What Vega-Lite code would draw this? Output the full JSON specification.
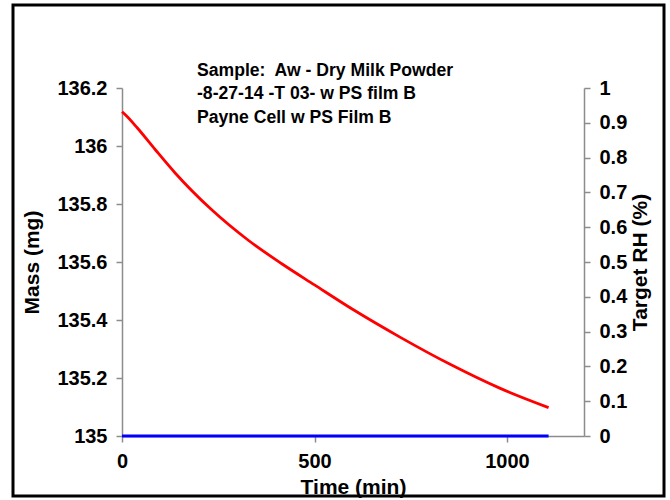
{
  "$schema": "https://vega.github.io/schema/vega-lite/v6.json",
  "autosize": "none",
  "width": 462,
  "height": 348,
  "padding": {"left": 122, "top": 88, "right": 86, "bottom": 64},
  "background": "white",
  "config": {
    "view": {"stroke": null},
    "font": "Liberation Sans",
    "axis": {
      "grid": false,
      "domainColor": "#8c8c8c",
      "tickColor": "#8c8c8c",
      "domainWidth": 1.5,
      "tickWidth": 1.5,
      "tickSize": 6,
      "labelFont": "Liberation Sans",
      "labelFontWeight": "bold",
      "labelFontSize": 20,
      "labelColor": "black",
      "labelPadding": 9,
      "labelFlush": false,
      "labelOverlap": false,
      "titleFont": "Liberation Sans",
      "titleFontWeight": "bold",
      "titleFontSize": 21,
      "titleColor": "black"
    }
  },
  "title": {
    "text": ["Sample:\u00a0 Aw - Dry Milk Powder", "\u2004-8-27-14 -T 03- w PS film B", "Payne Cell w PS Film B"],
    "anchor": "start",
    "frame": "group",
    "orient": "top",
    "offset": 27,
    "dx": 75,
    "dy": 150,
    "font": "Liberation Sans",
    "fontSize": 17.6,
    "fontWeight": "bold",
    "color": "black",
    "lineHeight": 23.5
  },
  "datasets": {
    "mass": [
      {"time": 0, "mass": 136.118},
      {"time": 10, "mass": 136.106},
      {"time": 40, "mass": 136.062},
      {"time": 86, "mass": 135.988},
      {"time": 138, "mass": 135.907},
      {"time": 233, "mass": 135.78},
      {"time": 328, "mass": 135.675},
      {"time": 415, "mass": 135.594},
      {"time": 500, "mass": 135.521},
      {"time": 600, "mass": 135.436},
      {"time": 722, "mass": 135.341},
      {"time": 851, "mass": 135.248},
      {"time": 981, "mass": 135.165},
      {"time": 1108, "mass": 135.098}
    ],
    "rh": [
      {"time": 0, "rh": 0},
      {"time": 1108, "rh": 0}
    ]
  },
  "layer": [
    {
      "data": {"values": [{}]},
      "mark": {"type": "rect", "filled": false, "stroke": "black", "strokeWidth": 3, "clip": false},
      "encoding": {
        "x": {"value": -109},
        "x2": {"value": 542},
        "y": {"value": -83},
        "y2": {"value": 408}
      }
    },
    {
      "data": {"name": "mass"},
      "mark": {"type": "line", "color": "#ff0000", "strokeWidth": 2.8, "interpolate": "monotone"},
      "encoding": {
        "x": {
          "field": "time", "type": "quantitative",
          "scale": {"domain": [0, 1200], "nice": false},
          "axis": {"values": [0, 500, 1000], "format": "d", "title": "Time (min)", "titlePadding": 5}
        },
        "y": {
          "field": "mass", "type": "quantitative",
          "scale": {"domain": [135, 136.2], "nice": false, "zero": false},
          "axis": {"orient": "left", "values": [135, 135.2, 135.4, 135.6, 135.8, 136, 136.2], "format": "~g", "title": "Mass (mg)", "titlePadding": 14}
        }
      }
    },
    {
      "data": {"name": "rh"},
      "mark": {"type": "line", "color": "#0000ff", "strokeWidth": 3},
      "encoding": {
        "x": {"field": "time", "type": "quantitative", "scale": {"domain": [0, 1200], "nice": false}},
        "y": {
          "field": "rh", "type": "quantitative",
          "scale": {"domain": [0, 1], "nice": false},
          "axis": {"orient": "right", "values": [0, 0.1, 0.2, 0.3, 0.4, 0.5, 0.6, 0.7, 0.8, 0.9, 1], "format": "~g", "title": "Target RH (%)", "titleAngle": 270, "titleBaseline": "top", "titlePadding": 3}
        }
      }
    }
  ],
  "resolve": {"scale": {"y": "independent"}}
}
